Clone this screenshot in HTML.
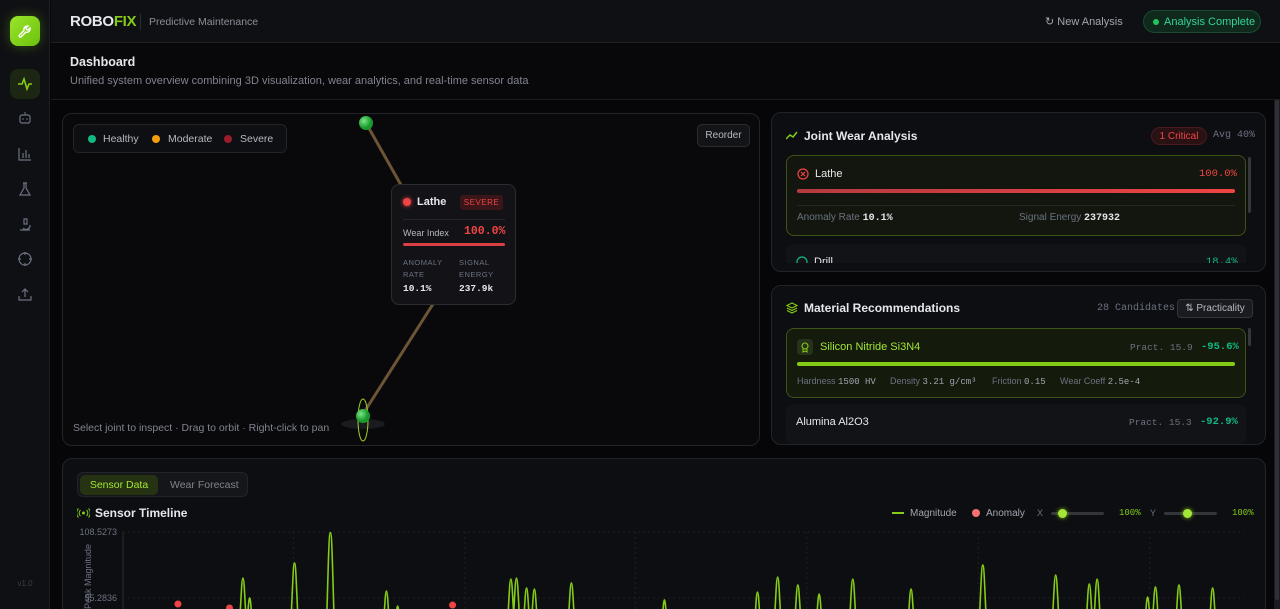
<!DOCTYPE html>
<html style="overflow:hidden;height:609px"><head><meta charset="utf-8">
<style>
*{box-sizing:border-box;margin:0;padding:0}
body{width:1280px;height:609px;overflow:hidden;background:#060609;font-family:"Liberation Sans",sans-serif;color:#e5e7eb;position:relative}
.abs{position:absolute}
.mono{font-family:"Liberation Mono",monospace}
.panel{position:absolute;background:#0d0e12;border:1px solid #22242a;border-radius:10px}
.ico{position:absolute;left:17px;width:16px;height:16px}
</style></head><body>
<div class="abs" style="left:0;top:0;width:50px;height:609px;background:#0f1014;border-right:1px solid #1e2026">
  <div class="abs" style="left:10px;top:16px;width:30px;height:30px;border-radius:8px;background:linear-gradient(135deg,#9ae62a,#6cc00e);box-shadow:0 0 12px rgba(132,204,22,.35)">
    <svg width="30" height="30" viewBox="0 0 30 30"><path d="M18 10a3.5 3.5 0 0 0-4 4.5l-4.5 4.5a1.2 1.2 0 0 0 1.7 1.7l4.5-4.5A3.5 3.5 0 0 0 20 12l-2 2-1.5-.5-.5-1.5z" fill="none" stroke="#fff" stroke-width="1.4"/></svg>
  </div>
  <div class="abs" style="left:10px;top:69px;width:30px;height:30px;border-radius:8px;background:#1d2612">
    <svg width="30" height="30"><polyline points="8,15 12,15 14,10 17,20 19,15 22,15" fill="none" stroke="#84cc16" stroke-width="1.6"/></svg>
  </div>
  <svg class="ico" style="top:110px" viewBox="0 0 16 16"><rect x="3" y="5" width="10" height="8" rx="2" fill="none" stroke="#6b7280" stroke-width="1.2"/><line x1="8" y1="2" x2="8" y2="5" stroke="#6b7280"/><circle cx="6" cy="9" r=".8" fill="#6b7280"/><circle cx="10" cy="9" r=".8" fill="#6b7280"/></svg>
  <svg class="ico" style="top:146px" viewBox="0 0 16 16"><path d="M2 2v12h12M6 12V7M9 12V4M12 12V8" fill="none" stroke="#6b7280" stroke-width="1.2"/></svg>
  <svg class="ico" style="top:181px" viewBox="0 0 16 16"><path d="M6 2h4M7 2v5l-4 7h10l-4-7V2" fill="none" stroke="#6b7280" stroke-width="1.2"/></svg>
  <svg class="ico" style="top:216px" viewBox="0 0 16 16"><path d="M3 14h10M6 12a4 4 0 0 0 7-3M7 3h3v5H7z" fill="none" stroke="#6b7280" stroke-width="1.2"/></svg>
  <svg class="ico" style="top:251px" viewBox="0 0 16 16"><circle cx="8" cy="8" r="6" fill="none" stroke="#6b7280" stroke-width="1.2"/><path d="M8 1v3M8 12v3M1 8h3M12 8h3" stroke="#6b7280" stroke-width="1.2"/></svg>
  <svg class="ico" style="top:286px" viewBox="0 0 16 16"><path d="M2 10v4h12v-4M8 11V3M5 6l3-3 3 3" fill="none" stroke="#6b7280" stroke-width="1.2"/></svg>
  <div class="abs" style="left:0;width:50px;top:579px;text-align:center;font-size:8px;color:#3a3d45">v1.0</div>
</div>

<div class="abs" style="left:51px;top:0;width:1229px;height:43px;background:#0f1014;border-bottom:1px solid #1e2026">
  <div class="abs" style="left:19px;top:13px;font-size:15px;font-weight:bold;letter-spacing:-.3px">ROBO<span style="color:#84cc16">FIX</span></div>
  <div class="abs" style="left:89px;top:14px;width:1px;height:16px;background:#2a2d33"></div>
  <div class="abs" style="left:98px;top:16px;font-size:10.5px;color:#8b8f98">Predictive Maintenance</div>
  <div class="abs" style="left:994px;top:15px;font-size:11px;color:#a1a5ae">↻ New Analysis</div>
  <div class="abs" style="left:1092px;top:10px;width:118px;height:23px;border-radius:12px;background:#0f2a1c;border:1px solid #1a4a30;color:#34d399;font-size:11px;padding:5px 0 0 20px"><span class="abs" style="left:9px;top:8px;width:6px;height:6px;border-radius:50%;background:#22c55e"></span>Analysis Complete</div>
</div>

<div class="abs" style="left:51px;top:44px;width:1229px;height:56px;background:#08080b;border-bottom:1px solid #1a1c21">
  <div class="abs" style="left:19px;top:11px;font-size:12.5px;font-weight:bold">Dashboard</div>
  <div class="abs" style="left:19px;top:31px;font-size:11px;color:#80848d">Unified system overview combining 3D visualization, wear analytics, and real-time sensor data</div>
</div>
<div class="abs" style="left:1274px;top:100px;width:6px;height:509px;background:#1a1b20"><div style="width:4px;margin-left:1px;height:500px;background:#2e3036;border-radius:2px"></div></div>

<div class="panel" style="left:62px;top:113px;width:698px;height:333px;background:#09090c">
  <div class="abs" style="left:10px;top:10px;width:214px;height:29px;border:1px solid #22242a;border-radius:6px;background:#0e0f13;font-size:10.5px;color:#b5b9c1">
    <span class="abs" style="left:14px;top:10px;width:8px;height:8px;border-radius:50%;background:#10b981"></span><span class="abs" style="left:29px;top:8px">Healthy</span>
    <span class="abs" style="left:78px;top:10px;width:8px;height:8px;border-radius:50%;background:#f59e0b"></span><span class="abs" style="left:94px;top:8px">Moderate</span>
    <span class="abs" style="left:150px;top:10px;width:8px;height:8px;border-radius:50%;background:#9b1c2a"></span><span class="abs" style="left:166px;top:8px">Severe</span>
  </div>
  <div class="abs" style="left:634px;top:10px;width:53px;height:23px;border:1px solid #2a2c32;border-radius:5px;background:#131418;font-size:10px;color:#b5b9c1;text-align:center;padding-top:5px">Reorder</div>
  <svg class="abs" style="left:0;top:0" width="698" height="333">
    <line x1="303" y1="9" x2="360" y2="110" stroke="#6b5535" stroke-width="3"/>
    <line x1="370" y1="190" x2="300" y2="300" stroke="#6b5535" stroke-width="3"/>
    <defs><radialGradient id="g1" cx=".35" cy=".35"><stop offset="0" stop-color="#7fe38a"/><stop offset="1" stop-color="#179a2b"/></radialGradient></defs>
    <circle cx="303" cy="9" r="7" fill="url(#g1)"/>
    <ellipse cx="300" cy="310" rx="22" ry="5" fill="#1a1b1f"/>
    <ellipse cx="300" cy="306" rx="5" ry="21" fill="none" stroke="#9fd22a" stroke-width="1"/>
    <circle cx="300" cy="302" r="7" fill="url(#g1)"/>
  </svg>
  <div class="abs" style="left:10px;top:308px;font-size:10.5px;color:#80848d">Select joint to inspect · Drag to orbit · Right-click to pan</div>
  <div class="abs" style="left:328px;top:70px;width:125px;height:121px;border:1px solid #2a2c32;border-radius:8px;background:#131317">
    <span class="abs" style="left:11px;top:13px;width:8px;height:8px;border-radius:50%;background:#ef4444;box-shadow:0 0 4px #ef4444"></span>
    <span class="abs" style="left:25px;top:11px;font-size:11px;font-weight:bold">Lathe</span>
    <span class="abs" style="left:68px;top:10px;width:43px;height:15px;border-radius:3px;background:#3a1519;color:#ef4444;font-size:8px;text-align:center;padding-top:3px;letter-spacing:.5px">SEVERE</span>
    <div class="abs" style="left:11px;top:34px;width:102px;height:1px;background:#25272d"></div>
    <span class="abs" style="left:11px;top:43px;font-size:9px;color:#b5b9c1">Wear Index</span>
    <span class="abs mono" style="left:72px;top:40px;font-size:11.5px;color:#ef4444;font-weight:bold">100.0%</span>
    <div class="abs" style="left:11px;top:58px;width:102px;height:3px;border-radius:2px;background:#dc3f45"></div>
    <span class="abs" style="left:11px;top:72px;font-size:7.5px;color:#6b7280;line-height:12px;letter-spacing:.5px">ANOMALY<br>RATE</span>
    <span class="abs" style="left:67px;top:72px;font-size:7.5px;color:#6b7280;line-height:12px;letter-spacing:.5px">SIGNAL<br>ENERGY</span>
    <span class="abs mono" style="left:11px;top:98px;font-size:9.5px;font-weight:bold">10.1%</span>
    <span class="abs mono" style="left:67px;top:98px;font-size:9.5px;font-weight:bold">237.9k</span>
  </div>
</div>

<div class="panel" style="left:771px;top:112px;width:495px;height:160px;overflow:hidden">
  <svg class="abs" style="left:14px;top:18px" width="12" height="10"><polyline points="0,8 4,4 7,6 11,1" fill="none" stroke="#84cc16" stroke-width="1.5"/></svg>
  <div class="abs" style="left:32px;top:16px;font-size:12px;font-weight:bold">Joint Wear Analysis</div>
  <div class="abs" style="left:379px;top:14px;width:56px;height:18px;border-radius:9px;background:#2a1114;border:1px solid #4a1a1e;color:#ef4444;font-size:10px;text-align:center;padding-top:3px">1 Critical</div>
  <div class="abs mono" style="left:441px;top:17px;font-size:10px;color:#6b7280">Avg 40%</div>
  <div class="abs" style="left:0;top:42px;width:495px;height:108px;overflow:hidden">
  <div class="abs" style="left:14px;top:0;width:460px;height:81px;border:1px solid #3d5418;border-radius:8px;background:#12160e">
    <svg class="abs" style="left:10px;top:12px" width="12" height="12"><circle cx="6" cy="6" r="5" fill="none" stroke="#ef4444" stroke-width="1.2"/><path d="M4 4l4 4M8 4l-4 4" stroke="#ef4444" stroke-width="1.2"/></svg>
    <span class="abs" style="left:28px;top:12px;font-size:11px">Lathe</span>
    <span class="abs mono" style="left:412px;top:12px;font-size:10.5px;color:#ef4444">100.0%</span>
    <div class="abs" style="left:10px;top:33px;width:438px;height:4px;border-radius:2px;background:linear-gradient(90deg,#b53a40,#ef4444)"></div>
    <div class="abs" style="left:10px;top:49px;width:438px;height:1px;background:#232a1c"></div>
    <span class="abs" style="left:10px;top:56px;font-size:10px;color:#6b7280">Anomaly Rate <b class="mono" style="color:#e5e7eb">10.1%</b></span>
    <span class="abs" style="left:232px;top:56px;font-size:10px;color:#6b7280">Signal Energy <b class="mono" style="color:#e5e7eb">237932</b></span>
  </div>
  <div class="abs" style="left:14px;top:89px;width:460px;height:40px;border-radius:8px;background:#121317">
    <svg class="abs" style="left:10px;top:12px" width="12" height="12"><circle cx="6" cy="6" r="5" fill="none" stroke="#10b981" stroke-width="1.2"/></svg>
    <span class="abs" style="left:28px;top:12px;font-size:11px">Drill</span>
    <span class="abs mono" style="left:420px;top:12px;font-size:10.5px;color:#10b981">18.4%</span>
  </div>
  </div>
  <div class="abs" style="left:476px;top:44px;width:3px;height:56px;border-radius:2px;background:#35373d"></div>
</div>

<div class="panel" style="left:771px;top:285px;width:495px;height:160px;overflow:hidden">
  <svg class="abs" style="left:14px;top:16px" width="12" height="12"><path d="M6 1l5 2.5-5 2.5-5-2.5zM1 6l5 2.5 5-2.5M1 8.5l5 2.5 5-2.5" fill="none" stroke="#84cc16" stroke-width="1.1"/></svg>
  <div class="abs" style="left:32px;top:15px;font-size:12px;font-weight:bold">Material Recommendations</div>
  <div class="abs mono" style="left:325px;top:17px;font-size:10px;color:#6b7280">28 Candidates</div>
  <div class="abs" style="left:405px;top:13px;width:76px;height:19px;border:1px solid #33353b;border-radius:4px;background:#1a1b20;font-size:10px;color:#b5b9c1;text-align:center;padding-top:3px">⇅ Practicality</div>
  <div class="abs" style="left:14px;top:42px;width:460px;height:70px;border:1px solid #3d5418;border-radius:8px;background:#141b0d">
    <div class="abs" style="left:10px;top:10px;width:16px;height:16px;border-radius:4px;background:#26331a"><svg width="16" height="16"><circle cx="8" cy="7" r="3" fill="none" stroke="#84cc16" stroke-width="1.1"/><path d="M6 10v3l2-1 2 1v-3" fill="none" stroke="#84cc16"/></svg></div>
    <span class="abs" style="left:33px;top:12px;font-size:11px;color:#a3e635">Silicon Nitride Si3N4</span>
    <span class="abs mono" style="left:343px;top:13px;font-size:9.5px;color:#6b7280">Pract. 15.9</span>
    <span class="abs mono" style="left:414px;top:12px;font-size:10.5px;color:#10b981;font-weight:bold">-95.6%</span>
    <div class="abs" style="left:10px;top:33px;width:438px;height:4px;border-radius:2px;background:#84cc16"></div>
    <span class="abs" style="left:10px;top:47px;font-size:9px;color:#6b7280">Hardness <span class="mono" style="color:#a1a5ae">1500 HV</span></span>
    <span class="abs" style="left:103px;top:47px;font-size:9px;color:#6b7280">Density <span class="mono" style="color:#a1a5ae">3.21 g/cm³</span></span>
    <span class="abs" style="left:205px;top:47px;font-size:9px;color:#6b7280">Friction <span class="mono" style="color:#a1a5ae">0.15</span></span>
    <span class="abs" style="left:273px;top:47px;font-size:9px;color:#6b7280">Wear Coeff <span class="mono" style="color:#a1a5ae">2.5e-4</span></span>
  </div>
  <div class="abs" style="left:14px;top:118px;width:460px;height:40px;border-radius:8px;background:#121317">
    <span class="abs" style="left:10px;top:12px;font-size:11px">Alumina Al2O3</span>
    <span class="abs mono" style="left:343px;top:13px;font-size:9.5px;color:#6b7280">Pract. 15.3</span>
    <span class="abs mono" style="left:414px;top:12px;font-size:10.5px;color:#10b981;font-weight:bold">-92.9%</span>
  </div>
  <div class="abs" style="left:476px;top:42px;width:3px;height:18px;border-radius:2px;background:#35373d"></div>
</div>

<div class="panel" style="left:62px;top:458px;width:1204px;height:151px;border-bottom:none;border-bottom-left-radius:0;border-bottom-right-radius:0;overflow:hidden">
  <div class="abs" style="left:14px;top:13px;width:171px;height:25px;border:1px solid #22242a;border-radius:6px;background:#15161a">
    <div class="abs" style="left:2px;top:2px;width:78px;height:20px;border-radius:5px;background:#263312;color:#a3e635;font-size:10.5px;text-align:center;padding-top:4px">Sensor Data</div>
    <div class="abs" style="left:92px;top:6px;font-size:10.5px;color:#80848d">Wear Forecast</div>
  </div>
  <svg class="abs" style="left:14px;top:49px" width="13" height="10"><circle cx="6.5" cy="5" r="1.5" fill="#84cc16"/><path d="M3.5 2a4 4 0 0 0 0 6M9.5 2a4 4 0 0 1 0 6M1.5 0.5a6.5 6.5 0 0 0 0 9M11.5 0.5a6.5 6.5 0 0 1 0 9" fill="none" stroke="#84cc16"/></svg>
  <div class="abs" style="left:32px;top:47px;font-size:12px;font-weight:bold">Sensor Timeline</div>
  <div class="abs" style="left:829px;top:49px;font-size:10px;color:#a1a5ae"><span style="display:inline-block;width:12px;height:2px;background:#84cc16;vertical-align:middle;margin-right:6px"></span>Magnitude</div>
  <div class="abs" style="left:909px;top:49px;font-size:10px;color:#a1a5ae"><span style="display:inline-block;width:8px;height:8px;border-radius:50%;background:#f87171;vertical-align:middle;margin-right:6px"></span>Anomaly</div>
  <div class="abs" style="left:974px;top:49px;font-size:9px;color:#6b7280">X</div>
  <div class="abs" style="left:988px;top:53px;width:53px;height:3px;background:#33353b;border-radius:2px"><span class="abs" style="left:7px;top:-3px;width:9px;height:9px;border-radius:50%;background:#a3e635;box-shadow:0 0 4px #84cc16"></span></div>
  <div class="abs mono" style="left:1056px;top:49px;font-size:9px;color:#84cc16">100%</div>
  <div class="abs" style="left:1087px;top:49px;font-size:9px;color:#6b7280">Y</div>
  <div class="abs" style="left:1101px;top:53px;width:53px;height:3px;background:#33353b;border-radius:2px"><span class="abs" style="left:19px;top:-3px;width:9px;height:9px;border-radius:50%;background:#a3e635;box-shadow:0 0 4px #84cc16"></span></div>
  <div class="abs mono" style="left:1169px;top:49px;font-size:9px;color:#84cc16">100%</div>
</div>
<svg id="chart" class="abs" style="left:0;top:0" width="1280" height="609"></svg>
<script>
const peakTimes=[107,113,153,185,235,245,346,351,360,367,400,483,566,584,602,621,651,703,767,832,862,869,914,921,942,972];
const peakValues=[71.4,55.3,83.5,108.1,60.9,48.8,70.6,71.4,63.4,62.5,67.4,53.7,60.1,72.2,65.8,58.5,70.6,62.5,81.9,73.8,66.6,70.6,56.1,64.2,65.8,63.4];
const anomalyTimes=[49,95,294];
const anomalyValues=[50.4,47.2,49.6];
const yTicks=[108.5273,55.2836];
const baseValue=30;
const X0=123,X1=1244,Y0=532,Y1=598;
const xS=t=>X0+(t/1000)*(X1-X0);
const yS=v=>Y1-(v-yTicks[1])*(Y1-Y0)/(yTicks[0]-yTicks[1]);
const NS='http://www.w3.org/2000/svg';
const svg=document.getElementById('chart');
function mk(tag,attrs){const e=document.createElementNS(NS,tag);for(const k in attrs)e.setAttribute(k,attrs[k]);svg.appendChild(e);return e;}
const cp=mk('clipPath',{id:'pc'});svg.removeChild(cp);const cr=document.createElementNS(NS,'rect');cr.setAttribute('x',X0);cr.setAttribute('y',500);cr.setAttribute('width',X1-X0);cr.setAttribute('height',109);cp.appendChild(cr);svg.appendChild(cp);
const yax=mk('line',{x1:X0,y1:Y0,x2:X0,y2:609,stroke:'#2a2c32'});


yTicks.forEach((v,i)=>{
  const g=mk('line',{x1:X0,x2:X1,y1:yS(v),y2:yS(v),stroke:'#1e2026','stroke-dasharray':'2 3'});
  
  
  const t=mk('text',{x:X0-6,y:yS(v)+3,'text-anchor':'end','font-size':9,fill:'#6b7280','font-family':'Liberation Sans'});
  t.textContent=v.toFixed(4);
  
  
});
[152,305,457,610,763,916].forEach(tt=>{
  const g=mk('line',{x1:xS(tt),x2:xS(tt),y1:Y0,y2:609,stroke:'#1e2026','stroke-dasharray':'2 3'});
  
  
});
const yt=mk('text',{x:0,y:0,transform:'translate(91,609) rotate(-90)','font-size':9,fill:'#6b7280','font-family':'Liberation Sans'});
yt.textContent='Peak Magnitude';


let d='';
peakTimes.forEach((t,i)=>{
  const x=xS(t),yb=yS(baseValue),yp=yS(peakValues[i]);
  d+=`M${x-4},${yb} C${x-2},${yp+30} ${x-1.5},${yp} ${x},${yp} C${x+1.5},${yp} ${x+2},${yp+30} ${x+4},${yb} `;
});
const line=mk('path',{d:d,fill:'none',stroke:'#84cc16','stroke-width':1.6,'clip-path':'url(#pc)'});


anomalyTimes.forEach((t,i)=>{
  const c=mk('circle',{cx:xS(t),cy:yS(anomalyValues[i]),r:3.5,fill:'#ef4444'});
  
  
});
</script>
</body></html>
